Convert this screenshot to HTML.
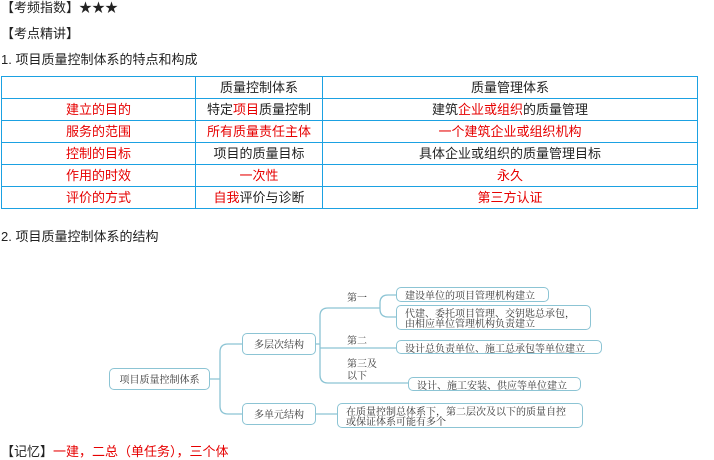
<!DOCTYPE html>
<html><head><meta charset="utf-8"><style>
body{margin:0;width:714px;height:459px;background:#fff;position:relative;overflow:hidden;font-family:"Liberation Sans","Noto Sans CJK SC",sans-serif;color:#222}
.t{position:absolute;font-size:13px;line-height:16px;white-space:nowrap}
.r{color:#e60000}
table{position:absolute;left:1px;top:76px;border-collapse:collapse;font-size:13px}
td{border:1.5px solid #1ba1e2;height:21px;padding:0;text-align:center;line-height:20px}
.b{position:absolute;border:1.2px solid #8cc4d4;border-radius:5px;font-family:"Noto Serif CJK SC",serif;font-size:10px;line-height:10px;color:#333;box-sizing:border-box;padding:1px 0 0 8px;background:#fff;white-space:nowrap}
.c{text-align:center;padding:0}
.s{position:absolute;font-family:"Noto Serif CJK SC",serif;font-size:10px;line-height:12px;color:#333}
</style></head><body>
<div class="t" style="left:1px;top:0">【考频指数】★★★</div>
<div class="t" style="left:1px;top:26px">【考点精讲】</div>
<div class="t" style="left:1px;top:52px">1. 项目质量控制体系的特点和构成</div>
<table>
<tr><td style="width:193px"></td><td style="width:126px">质量控制体系</td><td style="width:374px">质量管理体系</td></tr>
<tr><td class="r">建立的目的</td><td>特定<span class="r">项目</span>质量控制</td><td>建筑<span class="r">企业或组织</span>的质量管理</td></tr>
<tr><td class="r">服务的范围</td><td class="r">所有质量责任主体</td><td class="r">一个建筑企业或组织机构</td></tr>
<tr><td class="r">控制的目标</td><td>项目的质量目标</td><td>具体企业或组织的质量管理目标</td></tr>
<tr><td class="r">作用的时效</td><td class="r">一次性</td><td class="r">永久</td></tr>
<tr><td class="r">评价的方式</td><td><span class="r">自我</span>评价与诊断</td><td class="r">第三方认证</td></tr>
</table>
<div class="t" style="left:1px;top:229px">2. 项目质量控制体系的结构</div>
<svg style="position:absolute;left:0;top:0" width="714" height="459" fill="none" stroke="#8cc4d4" stroke-width="1.3">
<path d="M210 379 H220 M228 344 Q220 344 220 352 V406 Q220 414 228 414 H242 M228 344 H242"/>
<path d="M316 344 H320 M328 308 Q320 308 320 316 V375 Q320 383 328 383 H408 M328 308 H380 M388 295 Q380 295 380 303 V309 Q380 317 388 317 H396 M388 295 H396 M380 308 V303"/>
<path d="M320 348 H396 M316 414 H337"/>
</svg>
<div class="b c" style="left:109px;top:368px;width:101px;height:22px;line-height:19px">项目质量控制体系</div>
<div class="b c" style="left:242px;top:333px;width:74px;height:22px;line-height:19px">多层次结构</div>
<div class="b c" style="left:242px;top:403px;width:74px;height:22px;line-height:19px">多单元结构</div>
<div class="b" style="left:396px;top:287px;width:153px;height:15px;line-height:12px">建设单位的项目管理机构建立</div>
<div class="b" style="left:396px;top:305px;width:195px;height:25px;padding-top:2px">代建、委托项目管理、交钥匙总承包，<br>由相应单位管理机构负责建立</div>
<div class="b" style="left:396px;top:340px;width:206px;height:14px;line-height:11px">设计总负责单位、施工总承包等单位建立</div>
<div class="b" style="left:408px;top:377px;width:173px;height:14px;line-height:11px">设计、施工安装、供应等单位建立</div>
<div class="b" style="left:337px;top:403px;width:246px;height:25px;padding-top:2px">在质量控制总体系下，第二层次及以下的质量自控<br>或保证体系可能有多个</div>
<div class="s" style="left:347px;top:291px">第一</div>
<div class="s" style="left:347px;top:334px">第二</div>
<div class="s" style="left:347px;top:357px">第三及<br>以下</div>
<div class="t" style="left:1px;top:444px">【记忆】<span class="r">一建，二总（单任务），三个体</span></div>
</body></html>
